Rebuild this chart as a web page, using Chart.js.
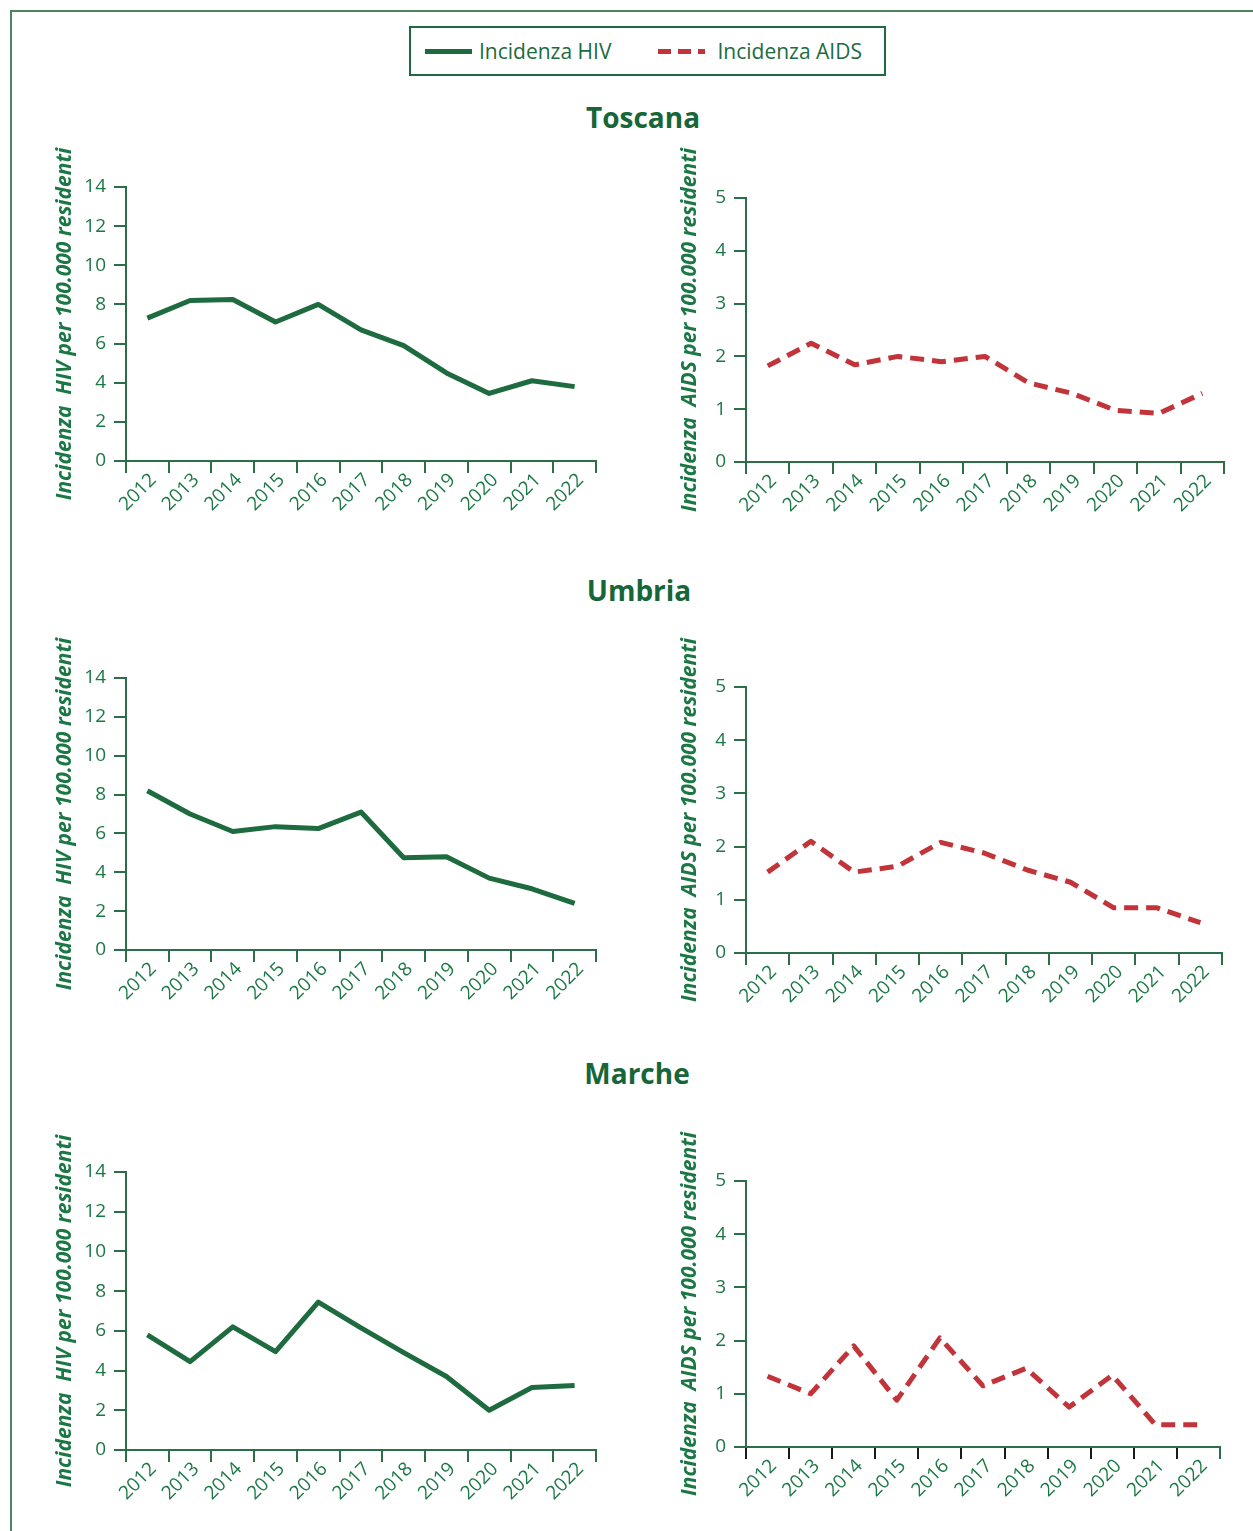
<!DOCTYPE html>
<html lang="it">
<head>
<meta charset="utf-8">
<title>Incidenza HIV e AIDS - Toscana, Umbria, Marche</title>
<script src="https://cdn.jsdelivr.net/npm/chart.js@4.4.1/dist/chart.umd.min.js"></script>
<style>
  html, body { margin: 0; padding: 0; background: #fff; }
  body { width: 1253px; height: 1531px; position: relative; overflow: hidden; font-family: "Open Sans", sans-serif; }
  .frame { position: absolute; left: 10px; top: 10px; right: 0; bottom: 0; border-top: 2px solid #4f8460; border-left: 2px solid #4f8460; }
  .legend { position: absolute; left: 409px; top: 26px; width: 473px; height: 46px; border: 2px solid #1d6b3e; }
  .item { position: absolute; top: 0; height: 46px; display: flex; align-items: center; color: #1d6b3e; font-size: 21px; }
  .swatch { width: 47px; height: 5px; margin-right: 7px; }
  .solid { background: #1e6b40; }
  .dash { background: repeating-linear-gradient(to right, #c1343a 0 13px, transparent 13px 20px); width: 47px; }
  .region { position: absolute; width: 400px; text-align: center; font-size: 28px; font-weight: 700; color: #17663a; margin: 0; }
  .panel { position: absolute; }
</style>
</head>
<body>
<div class="frame"></div>
<div class="legend">
  <div class="item" style="left:14px"><span class="swatch solid"></span>Incidenza HIV</div>
  <div class="item" style="left:247px"><span class="swatch dash"></span>&nbsp;Incidenza AIDS</div>
</div>
<div class="region" style="left:443px; top:98px">Toscana</div>
<div class="region" style="left:439px; top:571px">Umbria</div>
<div class="region" style="left:437px; top:1054px">Marche</div>

<script>
// anni
var years = ['2012', '2013', '2014', '2015', '2016', '2017', '2018', '2019', '2020', '2021', '2022'];

// incidenza per 100.000 residenti
var toscanaHiv  = [7.3, 8.2, 8.25, 7.1, 8.0, 6.7, 5.9, 4.5, 3.45, 4.1, 3.8];
var toscanaAids = [1.82, 2.25, 1.84, 2.0, 1.9, 2.0, 1.5, 1.3, 0.98, 0.92, 1.3];
var umbriaHiv   = [8.2, 7.0, 6.1, 6.35, 6.25, 7.1, 4.75, 4.8, 3.7, 3.15, 2.4];
var umbriaAids  = [1.52, 2.1, 1.52, 1.63, 2.08, 1.88, 1.56, 1.33, 0.85, 0.85, 0.57];
var marcheHiv   = [5.8, 4.45, 6.2, 4.95, 7.45, 6.15, 4.9, 3.7, 2.0, 3.15, 3.25];
var marcheAids  = [1.33, 1.0, 1.9, 0.88, 2.05, 1.15, 1.48, 0.75, 1.35, 0.42, 0.42];

// assi
var hivMax = 14, hivStep = 2;
var aidsMax = 5, aidsStep = 1;

var textGreen = '#1b7845';
var axisGreen = '#2b6e47';
var lineGreen = '#1e6b40';
var lineRed = '#c1343a';

Chart.defaults.font.family = "'Open Sans', sans-serif";

// pixel positions of each plot area on the page
var panels = [
  { data: toscanaHiv,  kind: 'hiv',  area: [126, 596, 187, 461] },
  { data: toscanaAids, kind: 'aids', area: [746, 1224, 198, 462] },
  { data: umbriaHiv,   kind: 'hiv',  area: [126, 596, 678, 950] },
  { data: umbriaAids,  kind: 'aids', area: [746, 1222, 687, 953] },
  { data: marcheHiv,   kind: 'hiv',  area: [126, 596, 1172, 1450] },
  { data: marcheAids,  kind: 'aids', area: [746, 1220, 1181, 1447], tickColor: '#1a1a1a' }
];

panels.forEach(function (p) {
  var hiv = p.kind === 'hiv';
  var left = hiv ? 36 : 656;
  var width = hiv ? 580 : 590;
  var top = p.area[2] - 60;
  var height = p.area[3] + 70 - top;

  var div = document.createElement('div');
  div.className = 'panel';
  div.style.left = left + 'px';
  div.style.top = top + 'px';
  var canvas = document.createElement('canvas');
  canvas.width = width;
  canvas.height = height;
  div.appendChild(canvas);
  document.body.appendChild(div);

  var yWidth = p.area[0] - left;
  var xHeight = top + height - p.area[3];

  new Chart(canvas.getContext('2d'), {
    type: 'line',
    data: {
      labels: years,
      datasets: [{
        label: hiv ? 'Incidenza HIV' : 'Incidenza AIDS',
        data: p.data,
        borderColor: hiv ? lineGreen : lineRed,
        borderWidth: 5,
        borderDash: hiv ? [] : [14, 8],
        borderJoinStyle: 'round',
        pointRadius: 0,
        tension: 0,
        fill: false
      }]
    },
    options: {
      responsive: false,
      animation: false,
      devicePixelRatio: 1,
      layout: { padding: { top: p.area[2] - top, right: left + width - p.area[1], left: 0, bottom: 0 } },
      plugins: { legend: { display: false }, tooltip: { enabled: false } },
      scales: {
        x: {
          type: 'category',
          offset: true,
          grid: {
            offset: true,
            drawOnChartArea: false,
            tickLength: 12,
            lineWidth: 2,
            color: function (c) {
              if (p.tickColor && c.index < years.length) return p.tickColor;
              return axisGreen;
            }
          },
          border: { color: axisGreen, width: 2 },
          ticks: {
            color: textGreen,
            font: { size: 19 },
            minRotation: 45,
            maxRotation: 45,
            autoSkip: false,
            padding: -4,
            labelOffset: 6
          },
          afterFit: function (s) { s.height = xHeight; }
        },
        y: {
          min: 0,
          max: hiv ? hivMax : aidsMax,
          ticks: {
            stepSize: hiv ? hivStep : aidsStep,
            color: textGreen,
            font: { size: 19 },
            padding: 8
          },
          grid: { drawOnChartArea: false, tickLength: 12, lineWidth: 2, color: axisGreen },
          border: { color: axisGreen, width: 2 },
          title: {
            display: true,
            text: hiv ? 'Incidenza  HIV per 100.000 residenti' : 'Incidenza  AIDS per 100.000 residenti',
            color: textGreen,
            font: { size: 21, weight: 'bold', style: 'italic' },
            padding: { top: hiv ? 16 : 21, bottom: 0 }
          },
          afterFit: function (s) { s.width = yWidth; }
        }
      }
    }
  });
});
</script>
</body>
</html>
